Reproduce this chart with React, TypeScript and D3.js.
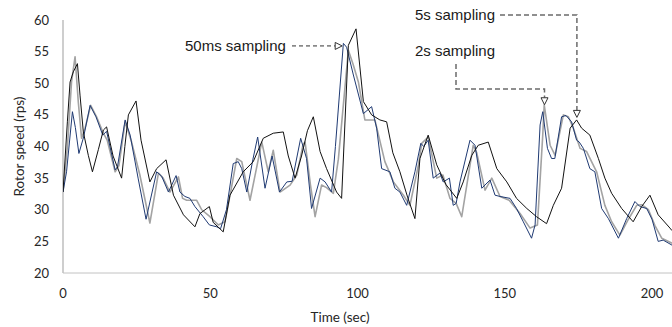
import React from 'react';
import * as d3 from 'd3';

// [time (sec), rotor speed (rps)]
const ms50: [number, number][] = [
  [0, 32.8], [1.2, 36], [3.2, 45.5], [4.2, 43], [5.4, 38.9], [7, 41.5], [9.2, 46.5], [11.2, 44.7],
  [13.5, 41.8], [14.8, 42.4], [17.7, 36.3], [18.5, 36.8], [21.1, 44.2], [22.8, 41.8], [25.5, 35],
  [28.2, 28.5], [31.8, 36], [33.5, 35.3], [35.8, 32.8], [38.4, 35.4], [39.7, 32.8], [41.4, 32.1],
  [43.1, 31.8], [44.8, 30.5], [47.6, 28.9], [49.7, 27.6], [52.2, 27.3], [53.5, 27.0], [55.5, 30],
  [57.8, 37.3], [59.5, 37.6], [60.7, 36.5], [62.4, 32.8], [64.5, 38], [66.1, 41.5], [68.6, 33.4],
  [71, 38.5], [73.5, 32.8], [76, 34.4], [77.8, 34.5], [80.7, 41.3], [82.7, 38.1], [84.4, 30.2],
  [87.3, 35], [89, 34.4], [91.2, 32.8], [92.5, 40], [95.2, 56.3], [96.3, 55.7], [98.6, 51.3],
  [102, 45.2], [104.8, 46.3], [106.5, 42.9], [108.2, 36.5], [111, 36], [112.7, 33.4], [114.4, 32.8],
  [116.7, 30.7], [119.5, 36], [121.5, 40.5], [122.5, 40], [124, 41], [125.7, 35], [128, 35.8],
  [129.1, 34.4], [131.2, 35], [132.5, 30.7], [133.5, 31], [134.8, 34.4], [138.2, 41], [139.9, 40.2],
  [142.2, 33.4], [145, 34.7], [146.7, 32.3], [148.4, 32.1], [151.8, 31.8], [154, 30.2], [156.3, 28.1],
  [159.1, 25.5], [160.3, 27.6], [162, 43.4], [162.9, 45.5], [164.5, 39.7], [165.9, 38.1], [167, 38.1],
  [169.3, 44.7], [170.8, 44.9], [172.7, 43.9], [174.4, 41], [175.3, 40.7], [176.7, 39.7], [178.9, 36.5],
  [180.6, 36], [182.9, 30.2], [185.2, 28.6], [188.6, 25.5], [191.4, 28.6], [194.2, 31.3], [195.9, 30.5],
  [198.2, 30.2], [200, 28.5], [202.1, 25], [203.8, 25.2], [206.8, 24.4],
];

const s2: [number, number][] = [
  [0, 32.8], [1.5, 40], [2.9, 50.2], [4.1, 54.2], [5.2, 47], [6.3, 41.3], [7.5, 42.9], [9.4, 46.5],
  [11.4, 44.7], [13.7, 42.1], [15, 41], [17.7, 36], [19, 37], [21.1, 43.9], [23.3, 40.7], [26.1, 35.5],
  [29.5, 27.9], [32.4, 35.8], [34, 35], [36.3, 32.8], [39.2, 35.2], [40.6, 31.8], [42, 31.5],
  [45.4, 31.5], [47.1, 30], [49.9, 28.9], [52.7, 27.6], [55, 28.1], [57, 33], [59, 38.1], [60.7, 37.6],
  [63.5, 31.5], [67.5, 40.7], [69.7, 36], [71.4, 39.4], [73.7, 32.8], [77.1, 33.9], [79.4, 35.5],
  [81.5, 40.3], [82.2, 40.7], [84, 34], [85.6, 28.9], [87.8, 33.9], [89.5, 33.5], [91.8, 32.6],
  [93.5, 38], [96.9, 55.2], [98.5, 53], [100.3, 50.2], [102.5, 44.2], [105.9, 44.2], [109.3, 37.6],
  [112.2, 34.4], [115.6, 32.3], [117.8, 30.7], [120.7, 37.1], [121.8, 40.5], [124, 41.5], [126.9, 35],
  [129, 35.5], [131.4, 31.8], [133.5, 31], [135.4, 28.9], [139.3, 40.2], [140.5, 39], [143.3, 33.1],
  [145.6, 35], [148.4, 32.1], [151.5, 31.5], [155.2, 29.4], [158.6, 27.1], [161.1, 27.6], [162.9, 41.8],
  [163.4, 46.6], [165.4, 40.2], [167.1, 38.6], [169.9, 45], [171.6, 44.7], [173.3, 42.9], [175.6, 39.7],
  [177.8, 39.2], [181.2, 36], [184, 30.7], [186.3, 28.1], [189.1, 26], [192, 28.5], [194.8, 30.7],
  [196.5, 30.8], [198.8, 30], [201, 27.5], [203.3, 25.5], [206.8, 24.7],
];

const s5: [number, number][] = [
  [0, 32.8], [1.5, 44], [2.4, 50.2], [3.5, 51.8], [4.9, 53.1], [5.8, 48], [6.9, 42.3], [8.6, 38.6],
  [10, 36], [12, 39.5], [13.7, 42.6], [14.8, 43.1], [17, 38.5], [19.9, 35], [21, 40], [22.2, 45],
  [24.8, 47.2], [26.5, 41], [29.5, 34.4], [31.8, 36.5], [35, 37.9], [37.5, 32.3], [40.9, 29.2],
  [44.8, 27.3], [46.5, 29.4], [49.7, 30.5], [51, 28], [54.4, 26.5], [56.7, 32.3], [61.2, 36],
  [64.6, 37.6], [68, 41.3], [71.4, 42.1], [74.8, 42.3], [76.5, 38.5], [78.8, 35], [81, 38.5],
  [83, 42.5], [85, 44.7], [87.3, 39.2], [89.5, 36.5], [92.9, 32.8], [94.6, 31.8], [96.9, 56],
  [99.5, 58.6], [102, 47.1], [104.8, 45], [107.6, 44.2], [109.9, 43.9], [112, 39], [114.4, 36],
  [117, 32], [119.5, 28.6], [121.2, 38.1], [124, 41.8], [126.9, 37.1], [130, 34], [133.7, 31.8],
  [135.9, 34.4], [138.8, 38.6], [141, 40.2], [144.4, 40.7], [147.3, 36.5], [150.7, 34.4], [154, 31.8],
  [157.5, 30.2], [160.8, 28.9], [164.2, 27.8], [166.5, 30.7], [169.3, 33.4], [172.2, 42.9], [174.4, 44.2],
  [176.1, 42.9], [178.9, 41.8], [181.8, 38.1], [184, 35], [186.3, 32.6], [189.7, 30.2], [193.6, 28.1],
  [196.5, 30.5], [199.3, 32.3], [202.1, 29.2], [206.1, 27.1], [206.8, 26.7],
];

const xTicks = [0, 50, 100, 150, 200];
const yTicks = [20, 25, 30, 35, 40, 45, 50, 55, 60];

const W = 672;
const H = 327;
const margin = { top: 20, right: 0, bottom: 54, left: 63 };

const x = d3.scaleLinear().domain([0, 200]).range([margin.left, 652]);
const y = d3.scaleLinear().domain([20, 60]).range([H - margin.bottom, margin.top]);

const line = d3.line<[number, number]>()
  .x(d => x(d[0]))
  .y(d => y(d[1]));

const labelFont = 'Lato, "Open Sans", sans-serif';
const noteFont = '"Liberation Sans", Arial, sans-serif';

// open triangle arrow head, tip at (tx, ty), pointing in direction dir
const tri = (tx: number, ty: number, dir: 'down' | 'right') => {
  const s = 7;
  if (dir === 'down') return `M${tx},${ty} L${tx - s / 2},${ty - s} L${tx + s / 2},${ty - s} Z`;
  return `M${tx},${ty} L${tx - s},${ty - s / 2} L${tx - s},${ty + s / 2} Z`;
};

export default function App() {
  // arrow targets in data units
  const p50 = { x: x(94.8), y: y(55.9) };
  const p2 = { x: x(163.5), y: y(46.6) };
  const p5 = { x: x(174.5), y: y(44.6) };
  const dash = '#6b6b6b';

  return (
    <svg width={W} height={H} style={{ position: 'absolute', left: 0, top: 0, background: '#fff' }}>
      <defs>
        <clipPath id="plot">
          <rect x={margin.left} y={0} width={W - margin.left} height={H - margin.bottom + 1} />
        </clipPath>
      </defs>

      {/* axes */}
      <line x1={x(0)} x2={x(0)} y1={y(60)} y2={y(20)} stroke="#b4b4b4" strokeWidth={1.3} />
      <line x1={x(0)} x2={W} y1={y(20)} y2={y(20)} stroke="#c2c2c2" strokeWidth={1} />

      {yTicks.map(t => (
        <text key={t} x={49} y={y(t)} dy="0.35em" textAnchor="end"
          fontFamily={labelFont} fontSize={13} fill="#262626">{t}</text>
      ))}
      {xTicks.map(t => (
        <text key={t} x={x(t)} y={293} dy="0.35em" textAnchor="middle"
          fontFamily={labelFont} fontSize={13} fill="#262626">{t}</text>
      ))}
      <text x={340} y={317} dy="0.35em" textAnchor="middle" fontFamily={labelFont}
        fontSize={13.5} fill="#262626">Time (sec)</text>
      <text transform={`translate(19,${(y(20) + y(60)) / 2}) rotate(-90)`} dy="0.35em"
        textAnchor="middle" fontFamily={labelFont} fontSize={13.5} fill="#262626">Rotor speed (rps)</text>

      {/* series */}
      <g clipPath="url(#plot)" fill="none" strokeLinejoin="round">
        <path d={line(s2) ?? ''} stroke="#a3a3a3" strokeWidth={1.6} />
        <path d={line(ms50) ?? ''} stroke="#1f3a73" strokeWidth={1} />
        <path d={line(s5) ?? ''} stroke="#111" strokeWidth={1} />
      </g>

      {/* annotations */}
      <text x={185} y={p50.y} dy="0.35em" fontFamily={noteFont} fontSize={15} fill="#1a1a1a">50ms sampling</text>
      <line x1={292} x2={p50.x - 7} y1={p50.y} y2={p50.y} stroke="#333" strokeWidth={1} strokeDasharray="4 3" />
      <path d={tri(p50.x, p50.y, 'right')} fill="#fff" stroke="#333" strokeWidth={1} />

      <text x={415} y={15} dy="0.35em" fontFamily={noteFont} fontSize={15} fill="#1a1a1a">5s sampling</text>
      <path d={`M500,15 H${p5.x} V${p5.y - 7}`} fill="none" stroke={dash} strokeWidth={1.5} strokeDasharray="5 3" />
      <path d={tri(p5.x, p5.y, 'down')} fill="#fff" stroke="#333" strokeWidth={1} />

      <text x={415} y={51} dy="0.35em" fontFamily={noteFont} fontSize={15} fill="#1a1a1a">2s sampling</text>
      <path d={`M456,64 V89 H${p2.x} V${p2.y - 7}`} fill="none" stroke={dash} strokeWidth={1.5} strokeDasharray="5 3" />
      <path d={tri(p2.x, p2.y, 'down')} fill="#fff" stroke="#333" strokeWidth={1} />
    </svg>
  );
}
